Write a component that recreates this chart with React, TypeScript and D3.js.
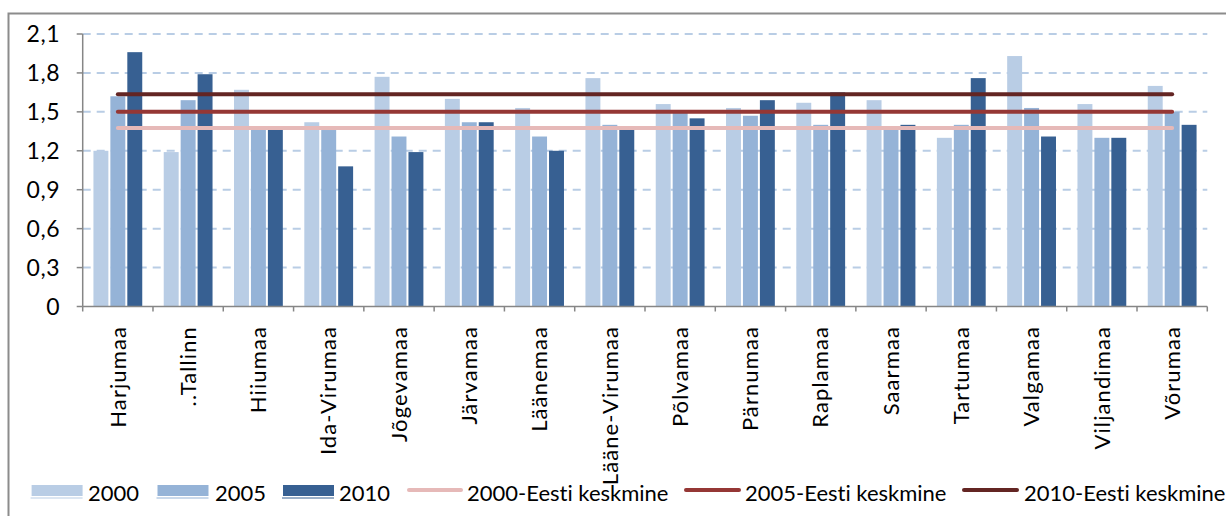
import React from "react";
import * as d3 from "d3";

const categories = [
  "Harjumaa", "..Tallinn", "Hiiumaa", "Ida-Virumaa", "Jõgevamaa", "Järvamaa",
  "Läänemaa", "Lääne-Virumaa", "Põlvamaa", "Pärnumaa", "Raplamaa", "Saarmaa",
  "Tartumaa", "Valgamaa", "Viljandimaa", "Võrumaa",
];
const v2000 = [1.20, 1.19, 1.67, 1.42, 1.77, 1.60, 1.53, 1.76, 1.56, 1.53, 1.57, 1.59, 1.30, 1.93, 1.56, 1.70];
const v2005 = [1.62, 1.59, 1.38, 1.36, 1.31, 1.42, 1.31, 1.40, 1.50, 1.47, 1.40, 1.37, 1.40, 1.53, 1.30, 1.50];
const v2010 = [1.96, 1.79, 1.38, 1.08, 1.19, 1.42, 1.20, 1.39, 1.45, 1.59, 1.65, 1.40, 1.76, 1.31, 1.30, 1.40];
const avgNames = ["2000-Eesti keskmine", "2005-Eesti keskmine", "2010-Eesti keskmine"];
const avgValues = [1.375, 1.5, 1.635];
const barNames = ["2000", "2005", "2010"];
const yTicks = [0, 0.3, 0.6, 0.9, 1.2, 1.5, 1.8, 2.1];

const barColors = ["#B9CDE5", "#95B3D7", "#376092"];
const lineColors = ["#E6B9B8", "#953735", "#632523"];
const FONT = "Lato, 'Open Sans', sans-serif";

export default function App() {
  const W = 1226, H = 516;
  const left = 82.7, right = 1207.3, top = 34, bottom = 306.5;
  const x = d3.scaleBand<string>().domain(categories).range([left, right]).padding(0);
  const y = d3.scaleLinear().domain([0, 2.1]).range([bottom, top]);
  const step = x.step();
  const bw = step / 4.15;
  const off = (step - 3 * bw) / 2;
  const series = [v2000, v2005, v2010];
  const fmt = (v: number) => (v === 0 ? "0" : d3.format(".1f")(v).replace(".", ","));
  const lineGen = d3.line<number>()
    .x((_, i) => (x(categories[i]) as number) + step / 2)
    .y((d) => y(d));

  const legendBars = [
    { sx: 31.6, sw: 51, tx: 88 },
    { sx: 157.5, sw: 51, tx: 215 },
    { sx: 283, sw: 51, tx: 339 },
  ];
  const legendLines = [
    { x1: 409, x2: 461, tx: 467 },
    { x1: 686, x2: 739, tx: 745 },
    { x1: 964, x2: 1017, tx: 1024 },
  ];

  return (
    <svg width={W} height={H} style={{ position: "absolute", left: 0, top: 0, background: "#fff" }}
      fontFamily={FONT}>
      <rect x={0} y={0} width={W} height={H} fill="#fff" />
      <rect x={8.5} y={13.5} width={1240} height={520} fill="#fff" stroke="#8C8C8C" strokeWidth={2} />
      {yTicks.filter((t) => t > 0).map((t) => (
        <line key={t} x1={left} x2={right} y1={y(t)} y2={y(t)} stroke="#B9CDE5"
          strokeWidth={2} strokeDasharray="8,6" />
      ))}
      {series.map((s, si) =>
        s.map((v, i) => {
          const bx = (x(categories[i]) as number) + off + si * bw;
          return (
            <rect key={si + "-" + i} x={bx + 1} width={bw - 2} y={y(v)} height={bottom - y(v)}
              fill={barColors[si]} />
          );
        })
      )}
      {avgValues.map((v, k) => (
        <path key={k} d={lineGen(categories.map(() => v)) as string} fill="none"
          stroke={lineColors[k]} strokeWidth={4} strokeLinecap="round" />
      ))}
      <line x1={left} x2={left} y1={top} y2={bottom} stroke="#868686" strokeWidth={1.5} />
      <line x1={left} x2={right} y1={bottom} y2={bottom} stroke="#868686" strokeWidth={1.5} />
      {yTicks.map((t) => (
        <g key={t}>
          <line x1={left - 6} x2={left} y1={y(t)} y2={y(t)} stroke="#868686" strokeWidth={1.5} />
          <text x={60} y={y(t)} dy="0.35em" textAnchor="end" fontSize={23} letterSpacing={0.5}
            fill="#000">{fmt(t)}</text>
        </g>
      ))}
      {d3.range(categories.length + 1).map((i) => {
        const tx = left + i * step;
        return <line key={i} x1={tx} x2={tx} y1={bottom} y2={bottom + 5} stroke="#868686" strokeWidth={1.5} />;
      })}
      {categories.map((c) => {
        const cx = (x(c) as number) + step / 2;
        return (
          <text key={c} transform={`translate(${cx},${326}) rotate(-90)`} textAnchor="end"
            dy="0.35em" fontSize={22} letterSpacing={1.1} fill="#000">{c}</text>
        );
      })}
      {legendBars.map((l, k) => (
        <g key={k}>
          <rect x={l.sx} y={485} width={l.sw} height={11} fill={barColors[k]} />
          <line x1={l.sx - 1} x2={l.sx + l.sw} y1={498} y2={498} stroke={barColors[k]} strokeWidth={1} />
          <text x={l.tx} y={493} dy="0.35em" fontSize={22} fill="#000">{barNames[k]}</text>
        </g>
      ))}
      {legendLines.map((l, k) => (
        <g key={k}>
          <line x1={l.x1} x2={l.x2} y1={490} y2={490} stroke={lineColors[k]} strokeWidth={4} strokeLinecap="round" />
          <text x={l.tx} y={493} dy="0.35em" fontSize={22} style={{ fontVariantLigatures: "none" }}
            fill="#000">{avgNames[k]}</text>
        </g>
      ))}
    </svg>
  );
}
